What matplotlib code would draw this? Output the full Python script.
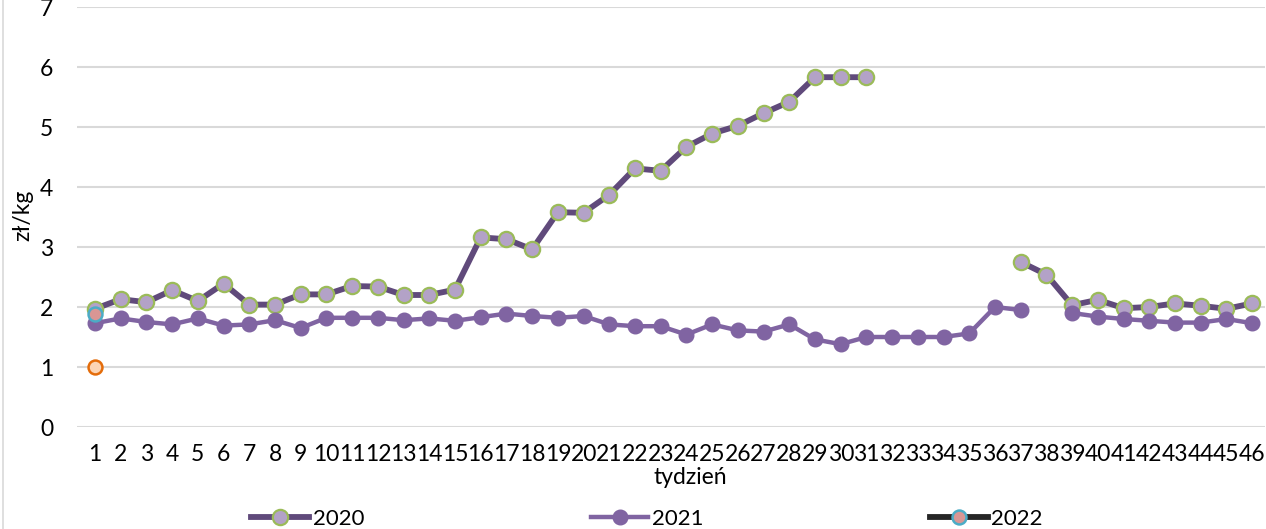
import numpy as np
import matplotlib
matplotlib.use("Agg")
import matplotlib.pyplot as plt
from matplotlib.lines import Line2D

plt.rcParams['font.family'] = ['Lato', 'DejaVu Sans']

weeks = list(range(1, 47))
week_labels = [str(w) for w in weeks]
nan = np.nan

y2020 = [1.97, 2.13, 2.08, 2.28, 2.10, 2.39, 2.04, 2.04, 2.21, 2.21,
         2.35, 2.34, 2.20, 2.20, 2.29, 3.16, 3.13, 2.96, 3.58, 3.57,
         3.87, 4.31, 4.27, 4.67, 4.89, 5.02, 5.23, 5.42, 5.83, 5.83,
         5.83, nan, nan, nan, nan, nan, 2.75, 2.54, 2.03, 2.12,
         1.98, 2.00, 2.06, 2.02, 1.97, 2.06]
y2021 = [1.73, 1.81, 1.75, 1.71, 1.81, 1.69, 1.71, 1.78, 1.65, 1.82,
         1.82, 1.82, 1.78, 1.81, 1.77, 1.83, 1.89, 1.85, 1.82, 1.85,
         1.71, 1.68, 1.68, 1.54, 1.71, 1.61, 1.59, 1.71, 1.46, 1.38,
         1.50, 1.50, 1.50, 1.50, 1.56, 2.00, 1.95, nan, 1.90, 1.84,
         1.80, 1.77, 1.74, 1.74, 1.80, 1.73]
y2022 = [1.88] + [nan] * 45
y_extra = [1.00] + [nan] * 45

W, H = 1266, 529
fig = plt.figure(figsize=(W / 100, H / 100), dpi=100)
ax = fig.add_axes([77 / W, 1 - 427 / H, (1265 - 77) / W, 420 / H])

ax.plot(weeks, y2020, color='#604A7B', lw=4.2, marker='o', ms=11,
        mfc='#B3A2C7', mec='#9BBB59', mew=1.6, label='2020', zorder=3)
ax.plot(weeks, y2021, color='#8064A2', lw=3.2, marker='o', ms=10.5,
        mfc='#8064A2', mec='#8064A2', mew=1, label='2021', zorder=4)
ax.plot(weeks, y2022, color='#262626', lw=4.2, marker='o', ms=10,
        mfc='#D99694', mec='#4BACC6', mew=1.8, label='2022', zorder=5)
ax.plot(weeks, y_extra, color='#E46C0A', lw=0, marker='o', ms=10,
        mfc='#FCD5B5', mec='#E46C0A', mew=1.8, zorder=5)

ax.set_xlim(1 - 18 / 25.7, 46.5)
ax.set_ylim(0, 7)
ax.set_yticks(range(0, 8))
ax.set_xticks(weeks)
ax.set_xticklabels(week_labels)
ax.grid(axis='y', color='#D9D9D9', lw=1.5, zorder=0)
ax.set_axisbelow(True)
for s in ax.spines.values():
    s.set_visible(False)
ax.tick_params(axis='both', length=0, labelsize=16.5, colors='#000000')
ax.tick_params(axis='y', pad=17)
ax.tick_params(axis='x', pad=12)

ax.set_xlabel('tydzień', fontsize=16.5)
ax.xaxis.set_label_coords((690 - 77) / 1188, -0.095)
ax.set_ylabel('zł/kg', fontsize=16.5)
ax.yaxis.set_label_coords(-0.037, 0.505)

leg = fig.legend(handles=ax.get_lines()[:3], labels=['2020', '2021', '2022'],
                 loc='center', bbox_to_anchor=(647 / W, 1 - 519 / H),
                 ncol=3, frameon=False, fontsize=16, handlelength=2.6,
                 handletextpad=0.15, columnspacing=10.2, borderaxespad=0)

fig.add_artist(Line2D([2.5 / W, 2.5 / W], [0, 1], color='#D9D9D9', lw=1.2,
                      transform=fig.transFigure))

fig.savefig('out.png', dpi=100)
